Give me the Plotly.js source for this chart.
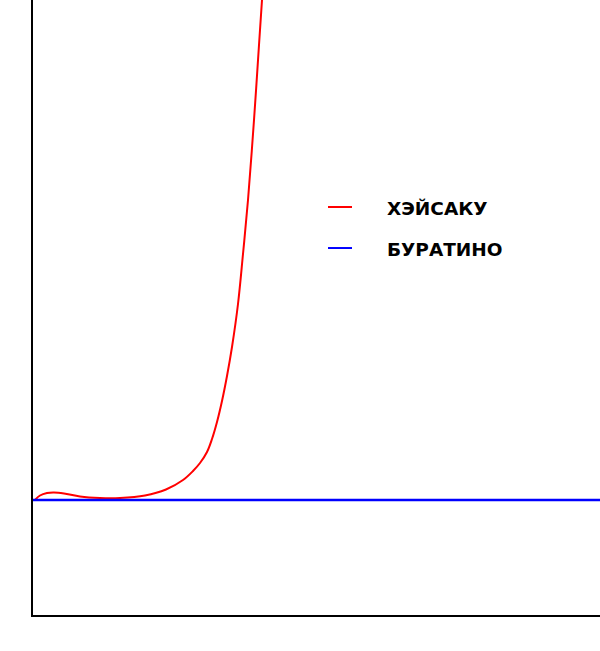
<!DOCTYPE html>
<html>
<head>
<meta charset="utf-8">
<script src="https://cdn.plot.ly/plotly-3.0.1.min.js"></script>
<style>html,body{margin:0;padding:0;background:#fff;}#chart{width:600px;height:651px;}</style>
</head>
<body>
<div id="chart"></div>
<script>
// Values (arbitrary units)
const seriesNames = ["ХЭЙСАКУ", "БУРАТИНО"];
const seriesColors = ["#ff0000", "#0000ff"];
const heisakuX = [2, 7, 14, 21, 31, 47, 67, 87, 112, 133, 150, 160, 167, 174, 179, 184, 189, 194, 199, 205, 210, 215, 221, 226, 232];
const heisakuY = [0, 4.5, 7, 7.5, 6.5, 3.5, 2, 2, 4.5, 10.5, 20, 29, 37, 48, 61, 78, 99, 124, 153, 196, 246, 300, 380, 455, 545];
const buratinoX = [0, 567];
const buratinoY = [0, 0];
const xRange = [0, 567];
const yRange = [-115, 500];

const traces = [
  {x: heisakuX, y: heisakuY, name: seriesNames[0], mode: "lines", type: "scatter",
   line: {color: seriesColors[0], width: 2, shape: "spline", smoothing: 1}},
  {x: buratinoX, y: buratinoY, name: seriesNames[1], mode: "lines", type: "scatter",
   line: {color: seriesColors[1], width: 2.5}}
];

// Legend drawn in paper coordinates
const legendRows = [0.6634, 0.5967];
const legendFont = {family: "DejaVu Sans, sans-serif", size: 18.5, color: "#000", weight: "bold"};
const shapes = [];
const annotations = [];
seriesNames.forEach((name, i) => {
  shapes.push({type: "line", xref: "paper", yref: "paper", x0: 0.5203, x1: 0.5626,
               y0: legendRows[i], y1: legendRows[i], line: {color: seriesColors[i], width: 2}});
  annotations.push({xref: "paper", yref: "paper", x: 0.6208, y: legendRows[i] - 0.003,
                    xanchor: "left", yanchor: "middle", showarrow: false, text: name, font: legendFont});
});

const layout = {
  width: 600, height: 651,
  margin: {l: 33, r: 0, t: 0, b: 36},
  paper_bgcolor: "#ffffff", plot_bgcolor: "#ffffff",
  showlegend: false,
  shapes: shapes,
  annotations: annotations,
  xaxis: {range: xRange, showline: true, linecolor: "#000", linewidth: 2, showgrid: false,
          zeroline: false, showticklabels: false, ticks: "", fixedrange: true},
  yaxis: {range: yRange, showline: true, linecolor: "#000", linewidth: 2, showgrid: false,
          zeroline: false, showticklabels: false, ticks: "", fixedrange: true}
};

Plotly.newPlot("chart", traces, layout, {displayModeBar: false, staticPlot: true});
</script>
</body>
</html>
